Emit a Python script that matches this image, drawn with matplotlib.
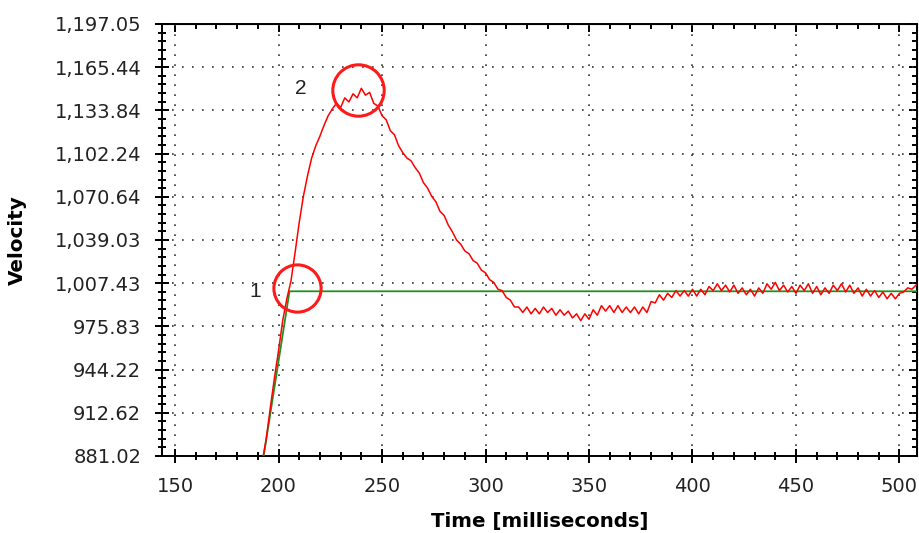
import numpy as np
import matplotlib.pyplot as plt
from matplotlib.ticker import AutoMinorLocator, FuncFormatter

plt.rcParams["font.family"] = ["DejaVu Sans"]

# measured velocity (red)
time_ms = [192, 194, 196, 198, 200, 202, 204, 206, 208, 210, 212, 214, 216, 218, 220,
           222, 224, 226, 228, 230, 232, 234, 236, 238, 240, 242, 244, 246, 248, 250,
           252, 254, 256, 258, 260, 262, 264, 266, 268, 270, 272, 274, 276, 278, 280,
           282, 284, 286, 288, 290, 292, 294, 296, 298, 300, 302, 304, 306, 308, 310,
           312, 314, 316, 318, 320, 322, 324, 326, 328, 330, 332, 334, 336, 338, 340,
           342, 344, 346, 348, 350, 352, 354, 356, 358, 360, 362, 364, 366, 368, 370,
           372, 374, 376, 378, 380, 382, 384, 386, 388, 390, 392, 394, 396, 398, 400,
           402, 404, 406, 408, 410, 412, 414, 416, 418, 420, 422, 424, 426, 428, 430,
           432, 434, 436, 438, 440, 442, 444, 446, 448, 450, 452, 454, 456, 458, 460,
           462, 464, 466, 468, 470, 472, 474, 476, 478, 480, 482, 484, 486, 488, 490,
           492, 494, 496, 498, 500, 502, 504, 506, 508]
velocity = [876, 893, 916, 938, 958, 980, 996, 1009, 1030, 1052, 1071, 1086, 1099, 1108, 1115,
            1123, 1130, 1135, 1139, 1136, 1143, 1140, 1146, 1143, 1150, 1145, 1147, 1139, 1137, 1130,
            1127, 1119, 1116, 1108, 1103, 1099, 1097, 1092, 1088, 1081, 1077, 1071, 1067, 1060, 1057,
            1050, 1045, 1039, 1036, 1031, 1029, 1024, 1022, 1017, 1015, 1010, 1008, 1003, 1002, 997,
            995, 990, 990, 986, 990, 985, 989, 985, 990, 986, 989, 984, 988, 984, 987,
            982, 985, 980, 985, 981, 988, 984, 991, 987, 991, 986, 991, 986, 990, 986,
            990, 985, 990, 986, 994, 993, 999, 995, 1000, 997, 1002, 998, 1002, 998, 1003,
            998, 1003, 999, 1005, 1002, 1007, 1002, 1006, 1001, 1006, 1000, 1004, 999, 1003, 998,
            1004, 1000, 1007, 1003, 1008, 1002, 1006, 1001, 1005, 1000, 1006, 1002, 1007, 1000, 1005,
            999, 1004, 1000, 1006, 1002, 1007, 1001, 1006, 1000, 1004, 998, 1003, 998, 1002, 997,
            1001, 996, 1000, 996, 1000, 1001, 1004, 1003, 1006]

# setpoint (green)
setpoint_t = [192.5, 205.3, 509]
setpoint_v = [878, 1001.5, 1001.5]

# highlighted points
mark_t = [209.0, 238.4]
mark_v = [1003.9, 1148.8]
mark_size = [34, 37]
mark_labels = ["1", "2"]
label_t = [188.9, 210.6]
label_v = [1001.0, 1150.2]

xticks = [150, 200, 250, 300, 350, 400, 450, 500]
yticks = [881.02, 912.62, 944.22, 975.83, 1007.43, 1039.03, 1070.64,
          1102.24, 1133.84, 1165.44, 1197.05]

fig = plt.figure(figsize=(9.2, 5.33), dpi=100)
ax = fig.add_axes([0.1761, 0.1445, 0.8207, 0.8105])

ax.plot(setpoint_t, setpoint_v, color="#1f8f1f", lw=1.3, zorder=3)
ax.plot(time_ms, velocity, color="#ff0000", lw=1.1, zorder=4)

for t, v, s in zip(mark_t, mark_v, mark_size):
    ax.plot([t], [v], marker="o", ms=s, mfc="none", mec="#ff1a1a", mew=2.2, zorder=5)
for t, v, lab in zip(label_t, label_v, mark_labels):
    ax.text(t, v, lab, fontsize=15, color="#222222", ha="center", va="center",
            family="Liberation Sans")

ax.set_xlim(143.7, 508.5)
ax.set_ylim(881.02, 1197.05)
ax.set_xticks(xticks)
ax.set_yticks(yticks)
ax.yaxis.set_major_formatter(FuncFormatter(lambda v, p: "{:,.2f}".format(v)))
ax.xaxis.set_minor_locator(AutoMinorLocator(5))
ax.yaxis.set_minor_locator(AutoMinorLocator(5))

ax.grid(True, which="major", color="#333333", linestyle=(0, (1, 5)), lw=1.2)
ax.tick_params(which="major", direction="inout", length=10, width=1.4,
               labelsize=14, labelcolor="#222222")
ax.tick_params(axis="x", which="major", pad=10)
ax.tick_params(axis="y", which="major", pad=10)
ax.tick_params(which="minor", direction="inout", length=6, width=1.4)
for sp in ax.spines.values():
    sp.set_linewidth(1.4)

# ticks on top and right, pointing inward
secx = ax.secondary_xaxis("top")
secx.set_xticks(xticks)
secx.xaxis.set_minor_locator(AutoMinorLocator(5))
secx.tick_params(which="major", direction="in", length=6, width=1.4, labeltop=False)
secx.tick_params(which="minor", direction="in", length=3.5, width=1.4)
secy = ax.secondary_yaxis("right")
secy.set_yticks(yticks)
secy.yaxis.set_minor_locator(AutoMinorLocator(5))
secy.tick_params(which="major", direction="in", length=6, width=1.4, labelright=False)
secy.tick_params(which="minor", direction="in", length=3.5, width=1.4)

ax.set_xlabel("Time [milliseconds]", fontsize=14.2, fontweight="bold")
ax.set_ylabel("Velocity", fontsize=14.4, fontweight="bold")
ax.xaxis.set_label_coords(0.5, -0.13)
ax.yaxis.set_label_coords(-0.179, 0.5)

fig.savefig("out.png", dpi=100)
